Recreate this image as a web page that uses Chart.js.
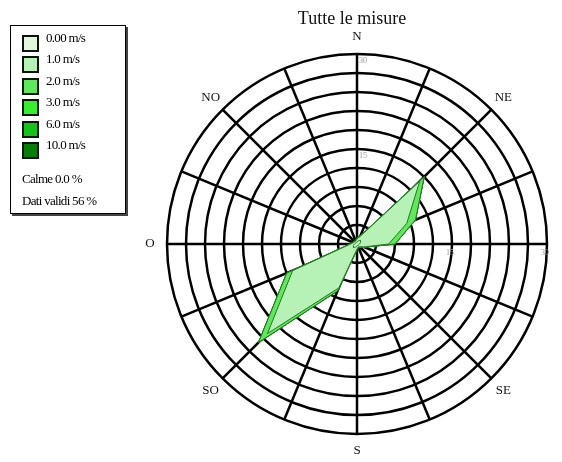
<!DOCTYPE html>
<html lang="it">
<head>
<meta charset="UTF-8">
<title>Tutte le misure</title>
<script src="https://cdn.jsdelivr.net/npm/chart.js"></script>
<style>
  body { margin: 0; background: #fff; font-family: "Liberation Serif", "Times New Roman", serif; }
  #wrap { position: relative; width: 562px; height: 462px; }
  #rosa { position: absolute; left: 0; top: 0; }
  #legenda { position: absolute; left: 10px; top: 25px; width: 114px; height: 187px;
             border: 1px solid #000; box-shadow: 2px 2px 0 #444; background: #fff; }
  .voce { position: absolute; left: 11px; font-size: 13px; letter-spacing: -0.7px; }
  .voce span.q { position: absolute; left: 0; top: 0; width: 13px; height: 13px; border: 2px solid #111; }
  .voce span.t { position: absolute; left: 24px; top: -5px; white-space: nowrap; }
  .nota { position: absolute; left: 11px; font-size: 13px; letter-spacing: -0.7px; white-space: nowrap; }
</style>
</head>
<body>
<div id="wrap">
  <canvas id="rosa" width="562" height="462"></canvas>
  <div id="legenda"></div>
</div>
<script>
// direzioni (16 settori, in senso orario da N)
const direzioni = ['N','NNE','NE','ENE','E','ESE','SE','SSE','S','SSO','SO','OSO','O','ONO','NO','NNO'];
const etichetteMostrate = ['N','','NE','','','','SE','','S','','SO','','O','','NO',''];

// classi di velocita e colori
const classi = ['0.00 m/s','1.0 m/s','2.0 m/s','3.0 m/s','6.0 m/s','10.0 m/s'];
const colori = ['#e2f8dc','#b6f2b6','#5fe85a','#33f02a','#14c414','#067d06'];

// frequenze (%) per classe e direzione
const f000 = [0.3,0.5,0.8,0.6,0.4,0.3,0.2,0.2,0.3,0.5,0.8,0.6,0.4,0.3,0.2,0.2];
const f10  = [0.5,0.8,13.2,7.9,4.6,0.9,0.4,0.3,0.5,7.0,19.2,10.4,0.6,0.3,0.3,0.3];
const f20  = [0.1,0.1,1.0,1.5,1.0,0.1,0.1,0.1,0.1,0.5,2.0,1.0,0.1,0.1,0.1,0.1];
const f30  = [0,0,0,0,0,0,0,0,0,0,0,0,0,0,0,0];
const f60  = [0,0,0,0,0,0,0,0,0,0,0,0,0,0,0,0];
const f100 = [0,0,0,0,0,0,0,0,0,0,0,0,0,0,0,0];

const tickMostrati = [15, 30];
const calme = '0.0';
const datiValidi = '56';

// legenda
const leg = document.getElementById('legenda');
classi.forEach((c, i) => {
  const d = document.createElement('div');
  d.className = 'voce';
  d.style.top = (9 + i * 21.4) + 'px';
  d.innerHTML = '<span class="q" style="background:' + colori[i] + '"></span><span class="t">' + c + '</span>';
  leg.appendChild(d);
});
const n1 = document.createElement('div');
n1.className = 'nota'; n1.style.top = '145px'; n1.textContent = 'Calme ' + calme + ' %';
leg.appendChild(n1);
const n2 = document.createElement('div');
n2.className = 'nota'; n2.style.top = '167px'; n2.textContent = 'Dati validi ' + datiValidi + ' %';
leg.appendChild(n2);

// valori cumulati
const serie = [f000, f10, f20, f30, f60, f100];
let acc = direzioni.map(() => 0);
const cumulati = serie.map(s => { acc = acc.map((v, i) => v + s[i]); return acc.slice(); });

const testi = {
  id: 'testi',
  afterDraw(chart) {
    const ctx = chart.ctx;
    const r = chart.scales.r;
    ctx.save();
    ctx.fillStyle = '#111';
    ctx.textAlign = 'center';
    ctx.textBaseline = 'middle';
    ctx.font = '18px "Liberation Serif"';
    ctx.fillText('Tutte le misure', 352, 19);
    ctx.font = '13px "Liberation Serif"';
    etichetteMostrate.forEach((t, i) => {
      if (!t) return;
      const p = r.getPointPosition(i, r.drawingArea + 17);
      ctx.fillText(t, p.x, p.y);
    });
    ctx.fillStyle = '#999';
    ctx.font = '8px "Liberation Serif"';
    tickMostrati.forEach(v => {
      const d = r.getDistanceFromCenterForValue(v);
      ctx.fillText(String(v), r.xCenter + 6, r.yCenter - d + 7);
      ctx.fillText(String(v), r.xCenter + d - 2, r.yCenter + 9);
    });
    ctx.restore();
  }
};

new Chart(document.getElementById('rosa'), {
  type: 'radar',
  data: {
    labels: direzioni,
    datasets: cumulati.map((d, i) => ({
      label: classi[i],
      data: d,
      backgroundColor: colori[i],
      borderColor: '#1f7a1f',
      borderWidth: 1,
      pointRadius: 0,
      fill: 'origin'
    }))
  },
  options: {
    responsive: false,
    animation: false,
    layout: { padding: { left: 167, right: 15, top: 54, bottom: 28 } },
    plugins: { legend: { display: false }, tooltip: { enabled: false } },
    scales: {
      r: {
        z: 1,
        min: 0, max: 30,
        ticks: { display: false, stepSize: 3 },
        pointLabels: { display: false },
        grid: { circular: true, color: '#000', lineWidth: 2.5 },
        angleLines: { color: '#000', lineWidth: 2.5 }
      }
    }
  },
  plugins: [testi]
});
</script>
</body>
</html>
